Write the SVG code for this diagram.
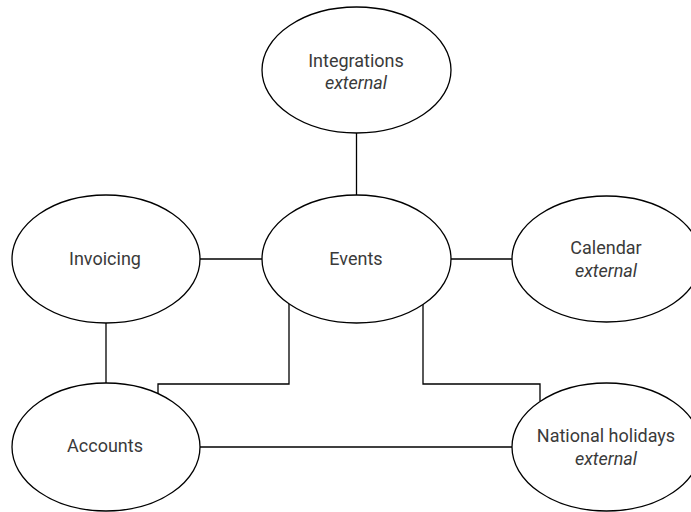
<svg xmlns="http://www.w3.org/2000/svg" width="691" height="512" viewBox="0 0 691 512">
  <style>
    .node ellipse { fill: #ffffff; stroke: #000000; stroke-width: 1.3; }
    .node text { font-family: Roboto, "Liberation Sans", Arial, sans-serif; font-size: 18px; fill: #3a3a3a; text-anchor: middle; }
    .node text.ext { font-style: italic; }
    #connectors path { fill: none; stroke: #000000; stroke-width: 1.3; }
  </style>
  <rect width="691" height="512" fill="#ffffff"/>

  <!-- connectors between the nodes -->
  <g id="connectors">
    <path d="M356.5 133 V195"/>
    <path d="M200 259 H262"/>
    <path d="M451 259 H512"/>
    <path d="M106 323 V383"/>
    <path d="M289 304 V384 H158 V394"/>
    <path d="M423 304 V384 H540 V401"/>
    <path d="M200 447 H512"/>
  </g>

  <g id="integrations" class="node">
    <ellipse cx="356.5" cy="70" rx="94.5" ry="63"/>
    <text x="356" y="67">Integrations</text>
    <text class="ext" x="356" y="89">external</text>
  </g>

  <g id="events" class="node">
    <ellipse cx="356.5" cy="259" rx="94.5" ry="64"/>
    <text x="356" y="265">Events</text>
  </g>

  <g id="invoicing" class="node">
    <ellipse cx="106" cy="259" rx="94" ry="64"/>
    <text x="105" y="265">Invoicing</text>
  </g>

  <g id="calendar" class="node">
    <ellipse cx="606.5" cy="259" rx="94.5" ry="63"/>
    <text x="606" y="254">Calendar</text>
    <text class="ext" x="606" y="277">external</text>
  </g>

  <g id="accounts" class="node">
    <ellipse cx="106" cy="447" rx="94" ry="64"/>
    <text x="105" y="452">Accounts</text>
  </g>

  <g id="national-holidays" class="node">
    <ellipse cx="606.5" cy="447" rx="94.5" ry="64"/>
    <text x="606" y="442">National holidays</text>
    <text class="ext" x="606" y="465">external</text>
  </g>
</svg>
